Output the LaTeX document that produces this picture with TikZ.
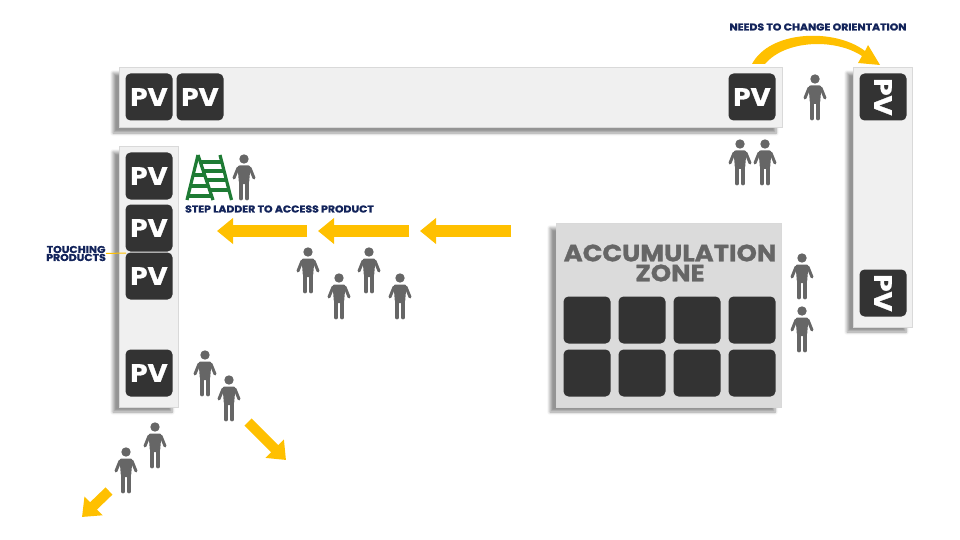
\documentclass[tikz,border=0pt]{standalone}
\usepackage{fontspec}
\setmainfont{Poppins}[BoldFeatures={FakeBold=1.2, FakeStretch=1.1}]
\usetikzlibrary{arrows.meta, shadows.blur}
\definecolor{pvdark}{HTML}{333333}
\definecolor{flowyellow}{HTML}{FFC000}
\definecolor{navy}{HTML}{12235A}
\definecolor{laddergreen}{HTML}{1E7B34}

\begin{document}
\begin{tikzpicture}[x=1pt, y=-1pt]
\tikzset{
  panel/.style={
    draw=black!15,
    line width=1pt,
    fill=black!6,
    blur shadow={shadow xshift=-6pt, shadow yshift=-5pt, shadow blur radius=3pt, shadow blur steps=6, shadow opacity=42}
  },
  zone/.style={
    panel,
    fill=black!14
  },
  pv/.style={
    fill=pvdark,
    rounded corners=5pt,
    minimum size=47pt,
    inner sep=0pt,
    text=white,
    font=\fontsize{25}{25}\selectfont\bfseries
  },
  flow/.style={
    draw=flowyellow,
    line width=12pt,
    -{Triangle[length=16pt, width=25pt]}
  },
  thinflow/.style={
    flow,
    line width=10pt
  },
  note/.style={
    text=navy,
    inner sep=0pt,
    align=center,
    font=\fontsize{9.9}{8}\selectfont\bfseries
  },
  worker/.pic={
    \fill[black!60] (0,0) circle (4.7);
    \fill[black!60, rounded corners=2pt] (-6.5,6.5) -- (6.5,6.5) -- (5,25) -- (-5,25) -- cycle;
    \draw[black!60, line width=3.8pt, line cap=round] (-3,22) -- (-3,39.5);
    \draw[black!60, line width=3.8pt, line cap=round] (3,22) -- (3,39.5);
    \draw[black!60, line width=3pt, line cap=round] (-6,9) -- (-10,19);
    \draw[black!60, line width=3pt, line cap=round] (6,9) -- (10,19);
  }
}

% Top bar
\useasboundingbox (0,0) rectangle (960,540);
\node (bartop) [panel, minimum width=663pt, minimum height=60pt] at (450.5,98) {};
\node (pvtop0) [pv] at (149,97) {PV};
\node (pvtop1) [pv] at (200,97) {PV};
\node (pvtop2) [pv] at (752,97) {PV};

% Right bar
\node (barright) [panel, minimum width=59pt, minimum height=259pt] at (882.5,197.5) {};
\node (pvright0) [pv, rotate=-90] at (883,97) {PV};
\node (pvright1) [pv, rotate=-90] at (883,293) {PV};

% Left bar
\node (barleft) [panel, minimum width=59pt, minimum height=260pt] at (148.5,277) {};
\node (pvleft0) [pv] at (149,176) {PV};
\node (pvleft1) [pv] at (149,228) {PV};
\node (pvleft2) [pv] at (149,276) {PV};
\node (pvleft3) [pv] at (149,373) {PV};

% Accumulation zone
\node (zonebox) [zone, minimum width=225pt, minimum height=184pt] at (668.5,315) {};
\node (zonetitle) [text=black!60, inner sep=0pt, align=center, font=\fontsize{23.5}{20}\selectfont\bfseries] at (670,263) {ACCUMULATION\\ZONE};
\foreach \px/\colname in {587/0, 642/1, 697/2, 752/3} {
  \node (cell0\colname) [pv] at (\px,320) {};
  \node (cell1\colname) [pv] at (\px,373) {};
}

% People
\pic at (815,79) {worker};
\pic at (740,144) {worker};
\pic at (765,144) {worker};
\pic at (244,159) {worker};
\pic at (308,252) {worker};
\pic at (339,278) {worker};
\pic at (369,252) {worker};
\pic at (400,278) {worker};
\pic at (802,258) {worker};
\pic at (802,311) {worker};
\pic at (205,355) {worker};
\pic at (229,380) {worker};
\pic at (155,427) {worker};
\pic at (126,452) {worker};

% Ladder
\begin{scope}[draw=laddergreen, line width=3.2pt]
\draw (198,155) -- (213,200);
\draw (220,155) -- (231.5,200);
\draw (198,155) -- (187,200);
\draw (201,162) -- (222,162);
\draw (204,171) -- (224,171);
\draw (207,180) -- (227,180);
\draw (210,190) -- (229.5,190);
\draw (193,175) -- (206,175);
\draw (190,186) -- (209,186);
\draw (188,196) -- (212,196);
\end{scope}

% Flow arrows
\coordinate (flow0a) at (511,231);
\coordinate (flow0b) at (420,231);
\coordinate (flow1a) at (409,231);
\coordinate (flow1b) at (318,231);
\coordinate (flow2a) at (307,231);
\coordinate (flow2b) at (217,231);
\coordinate (flow3a) at (248,422);
\coordinate (flow3b) at (286,460);
\coordinate (flow4a) at (109,491);
\coordinate (flow4b) at (82,517);
\draw[flow] (flow0a) -- (flow0b);
\draw[flow] (flow1a) -- (flow1b);
\draw[flow] (flow2a) -- (flow2b);
\draw[thinflow] (flow3a) -- (flow3b);
\draw[thinflow] (flow4a) -- (flow4b);

% Orientation arrow
\fill[flowyellow] (752,64) .. controls (770,30) and (835,28) .. (865,51) -- (868,45) -- (880,65) -- (858,63) -- (862,56)
  .. controls (835,38) and (785,40) .. (765,64) -- cycle;

% Labels
\node (orient) [note] at (818,27) {NEEDS TO CHANGE ORIENTATION};
\node (ladder) [note] at (279.5,209) {STEP LADDER TO ACCESS PRODUCT};
\node (touch) [note, anchor=east] at (106,253.5) {TOUCHING\\PRODUCTS};
\coordinate (touchend) at (126,253);
\draw[flowyellow, line width=1pt] (touch.east) -- (touchend);

\end{tikzpicture}
\end{document}
